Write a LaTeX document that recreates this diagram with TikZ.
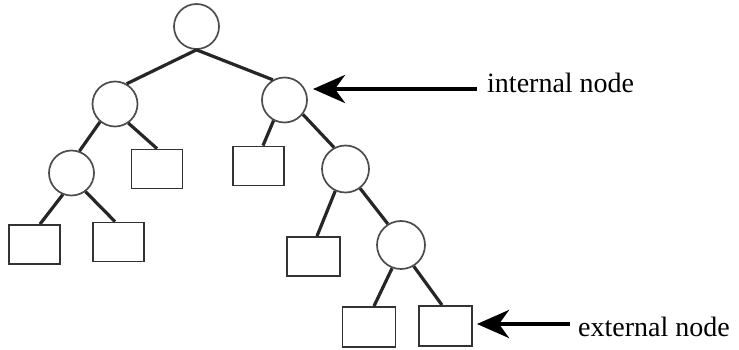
\documentclass[tikz,border=0pt]{standalone}
\usepackage{fontspec}
\setmainfont{Liberation Serif}
\usetikzlibrary{arrows.meta}
\tikzset{
  inode/.style={circle,draw=black!70,line width=1.7pt,minimum size=45pt,inner sep=0pt},
  enode/.style={rectangle,draw=black!80,line width=1.8pt,minimum width=51pt,minimum height=39pt,inner sep=0pt},
  edge/.style={draw=black!85,line width=3.2pt},
  pointer/.style={draw=black,line width=4.2pt,-{Stealth[length=32pt,width=28pt,inset=10pt]}},
  lbl/.style={font=\fontsize{28}{30}\selectfont,inner sep=0pt,anchor=base west}
}
\begin{document}
\begin{tikzpicture}[x=1pt,y=-1pt]
\useasboundingbox (0,0) rectangle (739,350);
% internal nodes
\node[inode] (root) at (196.5,26.5) {};
\node[inode] (l) at (115,104) {};
\node[inode] (r) at (284.5,100) {};
\node[inode] (ll) at (71.5,173) {};
\node[inode,minimum size=47pt] (rr) at (345.5,169) {};
\node[inode,minimum size=48pt] (rrr) at (401,245) {};
% external nodes
\node[enode] (lr) at (157,169) {};
\node[enode] (rl) at (258.5,166) {};
\node[enode] (lll) at (34.5,244.5) {};
\node[enode] (llr) at (118.5,242) {};
\node[enode,minimum width=53pt] (rrl) at (313.5,256.5) {};
\node[enode,minimum width=53pt,minimum height=40pt] (rrrl) at (369,327) {};
\node[enode,minimum width=53pt,minimum height=40pt] (rrrr) at (445.5,326) {};
% edges
\draw[edge] (root.south) -- (l.60);
\draw[edge] (root.south) -- (r.120);
\draw[edge] (l.230) -- (ll.70);
\draw[edge] (l.-55) -- (lr.north);
\draw[edge] (r.-118) -- ([xshift=4.5pt]rl.north);
\draw[edge] (r.-38) -- (rr.118);
\draw[edge] (ll.-112) -- ([xshift=5.5pt]lll.north);
\draw[edge] (ll.-53) -- ([xshift=-3.5pt]llr.north);
\draw[edge] (rr.-115) -- ([xshift=3.5pt]rrl.north);
\draw[edge] (rr.-53) -- (rrr.122);
\draw[edge] (rrr.-111) -- ([xshift=5pt]rrrl.north);
\draw[edge] (rrr.-59) -- ([xshift=-3.5pt]rrrr.north);
% labels and pointers
\node[lbl] (itext) at (487,93) {internal node};
\node[lbl] (etext) at (578,336) {external node};
\coordinate (itail) at (477,89);
\coordinate (itip) at (313,89);
\coordinate (etail) at (570,324);
\coordinate (etip) at (477,324);
\draw[pointer] (itail) -- (itip);
\draw[pointer] (etail) -- (etip);
\end{tikzpicture}
\end{document}
